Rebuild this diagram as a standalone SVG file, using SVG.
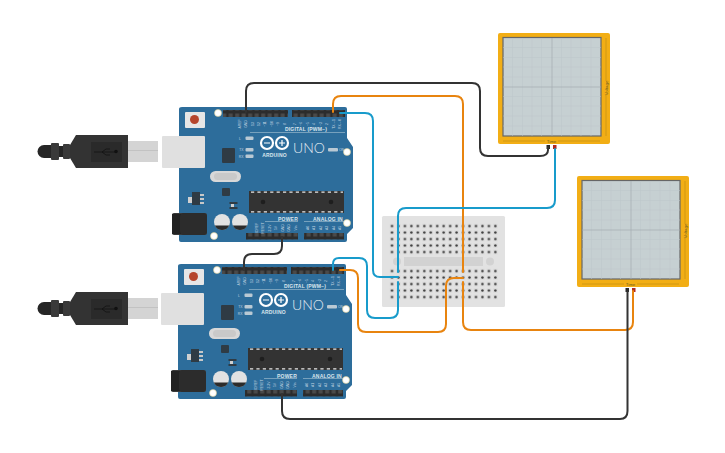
<svg xmlns="http://www.w3.org/2000/svg" width="725" height="453" viewBox="0 0 725 453">
<style>
text{font-family:"Liberation Sans",Arial,sans-serif}
.l{font-size:3.4px;fill:#c3d5e1;text-anchor:middle}
.h{font-size:5px;font-weight:700;fill:#dbe6ed;text-anchor:middle;letter-spacing:.2px}
.u{font-family:Lato,"Liberation Sans",sans-serif;font-weight:300;font-size:14px;fill:#e3ecf2;text-anchor:middle}
.s{font-size:3.4px;fill:#c3d5e1;text-anchor:end}
.t{font-size:4.4px;fill:#6b5a20;text-anchor:middle}
.w{fill:none;stroke-width:2;stroke-linecap:round;stroke-linejoin:round}
.o{stroke:#e8840f}.b{stroke:#189bcb}.k{stroke:#333}
</style>
<defs>
<pattern id="pins" width="6.5" height="7" patternUnits="userSpaceOnUse"><rect width="6.5" height="7" fill="#2c2c2c"/><rect x="1.2" y="1.5" width="4" height="4" fill="#4a4a4a"/></pattern>
<pattern id="holes" x="388.8" y="222.8" width="6.46" height="6.5" patternUnits="userSpaceOnUse"><rect x="1" y="1" width="4.4" height="4.4" fill="#dadada"/><circle cx="3.2" cy="3.2" r="1.2" fill="#3c3c3c"/></pattern>
<pattern id="holes2" x="388.8" y="267.8" width="6.46" height="6.5" patternUnits="userSpaceOnUse"><rect x="1" y="1" width="4.4" height="4.4" fill="#dadada"/><circle cx="3.2" cy="3.2" r="1.2" fill="#3c3c3c"/></pattern>
<g id="board">
<path d="M182 107H345Q347 107 347 109V138L353 147V228L347 234V240Q347 242 345 242H181Q179 242 179 240V109Q179 107 182 107Z" fill="#2d6d9b"/>
<rect x="223" y="110" width="65" height="7" fill="url(#pins)"/>
<rect x="292" y="110" width="53" height="7" fill="url(#pins)"/>
<rect x="246" y="233" width="52" height="6.5" fill="url(#pins)"/>
<rect x="304" y="233" width="40" height="6.5" fill="url(#pins)"/>
<g fill="#fff" stroke="#d9c98f" stroke-width=".6"><circle cx="218" cy="113" r="3.5"/><circle cx="347" cy="152" r="3.5"/><circle cx="347" cy="223" r="3.5"/><circle cx="214" cy="236" r="3.5"/></g>
<rect x="185" y="112" width="20" height="16" rx="1" fill="#e6e6e6"/><circle cx="194.500" cy="119.500" r="4.500" fill="#b5452c"/>
<rect x="222" y="148" width="13" height="15" rx="1" fill="#2f3b44"/>
<rect x="210" y="171" width="31" height="11" rx="5.500" fill="#d8d8d8"/><rect x="214" y="173" width="23" height="7" rx="3.500" fill="#c9c9c9"/>
<rect x="222" y="188" width="8" height="8" rx="1" fill="#2f3b44"/>
<rect x="192" y="192" width="8" height="13" fill="#2f3b44"/><rect x="188" y="197" width="4" height="6" fill="#d0d0d0"/><path d="M200 194h4v2h-4zM200 198h4v2h-4zM200 202h4v2h-4z" fill="#c8c8c8"/>
<rect x="231" y="202" width="3" height="7" fill="#d0d0d0"/><rect x="229.500" y="202" width="8" height="2" fill="#2f3b44"/><rect x="229.500" y="207" width="8" height="2" fill="#2f3b44"/>
<rect x="249" y="191" width="95" height="22" fill="#333"/>
<path d="M251 192.200H343M251 211.800H343" stroke="#e8e8e8" stroke-width="1.200" stroke-dasharray="3.200 3.200"/>
<circle cx="263" cy="202" r="2.300" fill="#1e1e1e"/><circle cx="331" cy="202" r="2.300" fill="#1e1e1e"/>
<circle cx="222" cy="222" r="8" fill="#e2e2e2"/><path d="M214.800 225.500a8 8 0 0 0 14.400 0z" fill="#2b2b2b"/>
<circle cx="240" cy="222" r="8" fill="#e2e2e2"/><path d="M232.800 225.500a8 8 0 0 0 14.400 0z" fill="#2b2b2b"/>
<rect x="172" y="213" width="35" height="22" rx="2" fill="#3a3a3a"/><rect x="172" y="214" width="10" height="20" fill="#222"/><rect x="180" y="213" width="27" height="22" rx="4" fill="#2c2c2c"/>
<g fill="#b9c9d4"><rect x="245.500" y="136.500" width="8" height="3.500" rx="1"/><rect x="245.500" y="148" width="8" height="3.500" rx="1"/><rect x="245.500" y="154.500" width="8" height="3.500" rx="1"/><rect x="328" y="148" width="10" height="3.500" rx="1"/></g>
<g fill="none" stroke="#fff" stroke-width="2.200"><circle cx="267" cy="143" r="6"/><circle cx="282" cy="143" r="6"/></g>
<path d="M264 143h6M279 143h6M282 140v6" stroke="#fff" stroke-width="1.200"/>
<path d="M250 132.500H345M265 221.500H298M304 221.500H344" stroke="#a9c4d5" stroke-width=".6"/>
<rect x="162" y="136" width="43" height="32" rx="1" fill="#e0e0e0"/>
</g>
<g id="usb">
<rect x="128" y="141" width="30" height="21" fill="#d4d4d4"/><rect x="128" y="150" width="30" height="1" fill="#c2c2c2"/>
<path d="M44 145H52V158H44A6.500 6.500 0 0 1 44 145Z" fill="#262626"/>
<rect x="51" y="143" width="8" height="17" rx="1" fill="#3a3a3a"/><rect x="59" y="146" width="4" height="11" fill="#262626"/><rect x="63" y="144" width="7" height="15" rx="1" fill="#3a3a3a"/>
<path d="M70 145L76 135H128V168H76L70 158Z" fill="#333"/>
<rect x="91" y="142" width="31" height="20" fill="#2a2a2a"/>
<path d="M94 152H116M102 152l4-3h4M102 152l4 3h4" fill="none" stroke="#111" stroke-width=".8"/><circle cx="116" cy="151.500" r="1.800" fill="#111"/>
<path d="M88 134.500H104M88 168.500H104" stroke="#fff" stroke-width="1" stroke-dasharray="1.500 1.500"/>
</g>
<g id="scope">
<rect width="112" height="111" rx="2" fill="#f2ae15"/>
<rect x="5" y="4.500" width="98" height="98.500" fill="#c6d0d2" stroke="#666" stroke-width="1.200"/>
<path d="M14.500 5V103M24.500 5V103M34 5V103M43.500 5V103M63.500 5V103M73 5V103M83 5V103M93 5V103M5 14.500H103M5 24.500H103M5 34H103M5 44H103M5 63.500H103M5 73H103M5 83H103M5 93H103" stroke="#bcc7ca" stroke-width=".5"/>
<path d="M54 5V103M5 54H103" stroke="#a3aeb1" stroke-width=".7"/>
<path d="M5 108H47M60 108H102M108 5V48M108 62V103" stroke="#b98a14" stroke-width=".6" fill="none"/>
<rect x="48.500" y="112" width="3.500" height="4" fill="#2a2a2a"/><rect x="55" y="112" width="3.500" height="4" fill="#b02a22"/>
</g>
</defs>
<g id="breadboard">
<rect x="382" y="216" width="123" height="91" rx="1.500" fill="#e2e2e2"/>
<rect x="388.800" y="222.800" width="110" height="32.500" fill="url(#holes)"/>
<rect x="388.800" y="267.800" width="110" height="32.500" fill="url(#holes2)"/>
<rect x="404" y="257" width="79" height="9" fill="#d2d2d2"/>
<circle cx="397" cy="261.500" r="4" fill="#d2d2d2"/><circle cx="490" cy="261.500" r="4" fill="#d2d2d2"/>
</g>
<g id="arduino-1">
<use href="#board"/>
<text x="274.500" y="157" class="h">ARDUINO</text>
<text x="309" y="153" class="u">UNO</text>
<text x="306" y="131" class="h">DIGITAL (PWM~)</text>
<text x="288" y="220.500" class="h">POWER</text><text x="328" y="220.500" class="h">ANALOG IN</text>
<text x="241" y="139.500" class="s">L</text><text x="243.500" y="151" class="s">TX</text><text x="243.500" y="157.500" class="s">RX</text><text x="344" y="151" class="s">ON</text>
<text transform="translate(241 124)rotate(-90)" class="l">AREF</text><text transform="translate(247 124)rotate(-90)" class="l">GND</text><text transform="translate(254 124)rotate(-90)" class="l">13</text><text transform="translate(260 124)rotate(-90)" class="l">12</text><text transform="translate(266 124)rotate(-90)" class="l">~11</text><text transform="translate(273 124)rotate(-90)" class="l">~10</text><text transform="translate(279 124)rotate(-90)" class="l">~9</text><text transform="translate(286 124)rotate(-90)" class="l">8</text>
<text transform="translate(296 124)rotate(-90)" class="l">7</text><text transform="translate(302 124)rotate(-90)" class="l">~6</text><text transform="translate(309 124)rotate(-90)" class="l">~5</text><text transform="translate(315 124)rotate(-90)" class="l">4</text><text transform="translate(322 124)rotate(-90)" class="l">~3</text><text transform="translate(328 124)rotate(-90)" class="l">2</text><text transform="translate(335 124)rotate(-90)" class="l">TX→1</text><text transform="translate(341 124)rotate(-90)" class="l">RX←0</text>
<text transform="translate(258 228)rotate(-90)" class="l">IOREF</text><text transform="translate(264 228)rotate(-90)" class="l">RESET</text><text transform="translate(271 228)rotate(-90)" class="l">3.3V</text><text transform="translate(277 228)rotate(-90)" class="l">5V</text><text transform="translate(284 228)rotate(-90)" class="l">GND</text><text transform="translate(290 228)rotate(-90)" class="l">GND</text><text transform="translate(297 228)rotate(-90)" class="l">Vin</text>
<text transform="translate(309 228)rotate(-90)" class="l">A0</text><text transform="translate(315 228)rotate(-90)" class="l">A1</text><text transform="translate(322 228)rotate(-90)" class="l">A2</text><text transform="translate(328 228)rotate(-90)" class="l">A3</text><text transform="translate(335 228)rotate(-90)" class="l">A4</text><text transform="translate(341 228)rotate(-90)" class="l">A5</text>
</g>
<g id="arduino-2" transform="translate(-1 157)">
<use href="#board"/>
<text x="274.500" y="157" class="h">ARDUINO</text>
<text x="309" y="153" class="u">UNO</text>
<text x="306" y="131" class="h">DIGITAL (PWM~)</text>
<text x="288" y="220.500" class="h">POWER</text><text x="328" y="220.500" class="h">ANALOG IN</text>
<text x="241" y="139.500" class="s">L</text><text x="243.500" y="151" class="s">TX</text><text x="243.500" y="157.500" class="s">RX</text><text x="344" y="151" class="s">ON</text>
<text transform="translate(241 124)rotate(-90)" class="l">AREF</text><text transform="translate(247 124)rotate(-90)" class="l">GND</text><text transform="translate(254 124)rotate(-90)" class="l">13</text><text transform="translate(260 124)rotate(-90)" class="l">12</text><text transform="translate(266 124)rotate(-90)" class="l">~11</text><text transform="translate(273 124)rotate(-90)" class="l">~10</text><text transform="translate(279 124)rotate(-90)" class="l">~9</text><text transform="translate(286 124)rotate(-90)" class="l">8</text>
<text transform="translate(296 124)rotate(-90)" class="l">7</text><text transform="translate(302 124)rotate(-90)" class="l">~6</text><text transform="translate(309 124)rotate(-90)" class="l">~5</text><text transform="translate(315 124)rotate(-90)" class="l">4</text><text transform="translate(322 124)rotate(-90)" class="l">~3</text><text transform="translate(328 124)rotate(-90)" class="l">2</text><text transform="translate(335 124)rotate(-90)" class="l">TX→1</text><text transform="translate(341 124)rotate(-90)" class="l">RX←0</text>
<text transform="translate(258 228)rotate(-90)" class="l">IOREF</text><text transform="translate(264 228)rotate(-90)" class="l">RESET</text><text transform="translate(271 228)rotate(-90)" class="l">3.3V</text><text transform="translate(277 228)rotate(-90)" class="l">5V</text><text transform="translate(284 228)rotate(-90)" class="l">GND</text><text transform="translate(290 228)rotate(-90)" class="l">GND</text><text transform="translate(297 228)rotate(-90)" class="l">Vin</text>
<text transform="translate(309 228)rotate(-90)" class="l">A0</text><text transform="translate(315 228)rotate(-90)" class="l">A1</text><text transform="translate(322 228)rotate(-90)" class="l">A2</text><text transform="translate(328 228)rotate(-90)" class="l">A3</text><text transform="translate(335 228)rotate(-90)" class="l">A4</text><text transform="translate(341 228)rotate(-90)" class="l">A5</text>
</g>
<g id="usb-1"><use href="#usb"/></g>
<g id="usb-2"><use href="#usb" y="157"/></g>
<g id="oscilloscope-1" transform="translate(498 33)">
<use href="#scope"/>
<text x="53.500" y="109.500" class="t">Time</text>
<text transform="translate(109.500 55)rotate(-90)" class="t">Voltage</text>
</g>
<g id="oscilloscope-2" transform="translate(577 176)">
<use href="#scope"/>
<text x="53.500" y="109.500" class="t">Time</text>
<text transform="translate(109.500 55)rotate(-90)" class="t">Voltage</text>
</g>
<g id="connectors">
<path class="w k" d="M246 112V91Q246 83 254 83H472Q480 83 480 91V148Q480 156 488 156H540Q548 156 548 150V147"/>
<path class="w o" d="M333 112V104Q333 96 341 96H455Q463 96 463 104V272"/>
<path class="w o" d="M463 282V322Q463 330 471 330H625Q633 330 633 322V291"/>
<path class="w b" d="M340 113H365Q373 113 373 121V270Q373 277 380 277H398"/>
<path class="w b" d="M398 272V216Q398 208 406 208H547Q555 208 555 200V149"/>
<path class="w k" d="M282 237V246Q282 254 274 254H252Q244 254 244 262V270"/>
<path class="w b" d="M333 270V264Q333 258 339 258H359Q367 258 367 266V310Q367 318 375 318H390Q398 318 398 310V282"/>
<path class="w o" d="M340 270H350Q358 270 358 278V324Q358 332 366 332H438Q446 332 446 324V286Q446 278 454 278H463"/>
<path class="w k" d="M282 394V411Q282 419 290 419H620Q627.500 419 627.500 411V292"/>
</g>
</svg>
